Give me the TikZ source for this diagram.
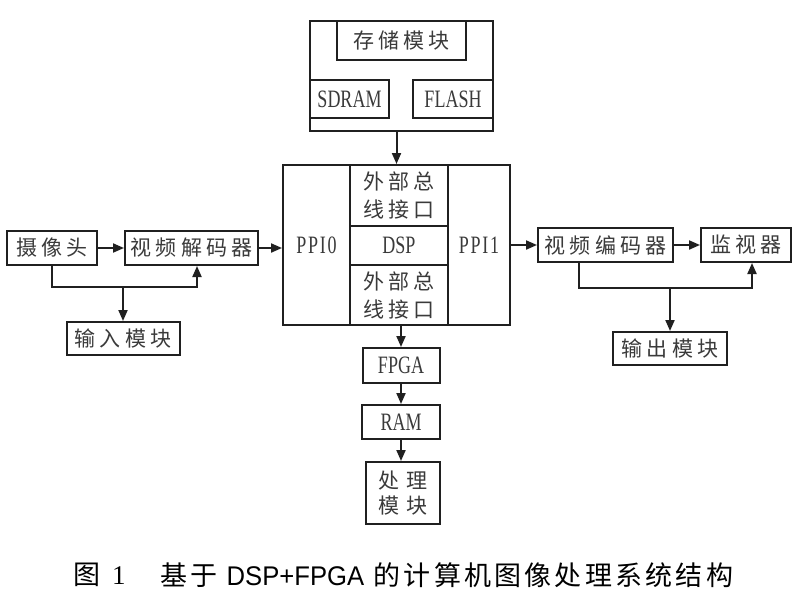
\documentclass[tikz,border=0pt]{standalone}
\usepackage{fontspec}
\usetikzlibrary{arrows.meta}
\newfontfamily\cjk{Noto Sans CJK SC}[LetterSpace=20]
\newfontfamily\cjkcap{Noto Sans CJK SC}[LetterSpace=12]
\newfontfamily\lat{Liberation Serif}[FakeStretch=0.72]
\newfontfamily\latsp{Liberation Serif}[FakeStretch=0.72,LetterSpace=7]
\newfontfamily\capsans{Liberation Sans}[FakeStretch=0.95]
\newfontfamily\capserif{Liberation Serif}
\definecolor{linec}{HTML}{202020}
\definecolor{txt}{HTML}{3A3A3A}
\tikzset{
  box/.style={draw=linec, line width=2pt, inner sep=0pt, text=txt, align=center},
  zh/.style={font=\fontsize{21}{28}\selectfont\cjk},
  en/.style={font=\fontsize{25}{28}\selectfont\lat},
  ensp/.style={font=\fontsize{25}{28}\selectfont\latsp},
  arr/.style={draw=linec, line width=2pt, -{Triangle[length=11pt,width=9pt]}},
}
\begin{document}
\begin{tikzpicture}[x=1pt,y=-1pt]
\useasboundingbox[fill=white] (0,0) rectangle (800,602);
% storage module
\node[box, minimum width=183pt, minimum height=110pt] (store) at (401.5,76) {};
\node[box, zh, minimum width=129pt, minimum height=39pt] (title) at (401.5,40.5) {存储模块};
\node[box, en, minimum width=79pt, minimum height=38pt] (sdram) at (349.5,99) {SDRAM};
\node[box, en, minimum width=80pt, minimum height=38pt] (flash) at (453,99) {FLASH};
% DSP block
\node[box, minimum width=227pt, minimum height=160pt] (big) at (396.5,245) {};
\node[box, ensp, minimum width=67pt, minimum height=160pt] (ppi0) at (316.5,245) {PPI0};
\node[box, ensp, minimum width=62pt, minimum height=160pt] (ppi1) at (479,245) {PPI1};
\node[box, zh, minimum width=98pt, minimum height=61pt] (ext1) at (399,195.5) {外部总\\线接口};
\node[box, en, minimum width=98pt, minimum height=39pt] (dsp) at (399,245.5) {DSP};
\node[box, zh, minimum width=98pt, minimum height=60pt] (ext2) at (399,295) {外部总\\线接口};
% left side
\node[box, zh, minimum width=90pt, minimum height=34pt] (cam) at (52,248) {摄像头};
\node[box, zh, minimum width=133pt, minimum height=34pt] (dec) at (191.5,248) {视频解码器};
\node[box, zh, minimum width=113pt, minimum height=33pt] (in) at (123,338.5) {输入模块};
% right side
\node[box, zh, minimum width=135pt, minimum height=34pt] (enc) at (605.5,245) {视频编码器};
\node[box, zh, minimum width=90pt, minimum height=34pt] (mon) at (746,245) {监视器};
\node[box, zh, minimum width=114pt, minimum height=33pt] (out) at (670,348.5) {输出模块};
% bottom chain
\node[box, en, minimum width=77pt, minimum height=35pt] (fpga) at (401,365.5) {FPGA};
\node[box, en, minimum width=78pt, minimum height=34pt] (ram) at (401,422) {RAM};
\node[box, zh, minimum width=74pt, minimum height=62pt, font=\fontsize{21}{25}\selectfont\cjk] (proc) at (403,493) {处\hspace{7pt}理\\模\hspace{7pt}块};
% junctions
\coordinate (jl) at (123,287);
\coordinate (jr) at (670,288);
% connectors
\draw[arr] (store.south -| big.north) -- (big.north);
\draw[arr] (cam) -- (dec);
\draw[arr] (dec.east) -- (dec.east -| ppi0.west);
\draw[arr] (cam.south) |- (jl) -| ([xshift=5.5pt]dec.south);
\draw[arr] (jl) -- (in.north);
\draw[arr] (ppi1.east |- enc.west) -- (enc.west);
\draw[arr] (enc) -- (mon);
\draw[arr] ([xshift=-26.5pt]enc.south) |- (jr) -| ([xshift=6pt]mon.south);
\draw[arr] (jr) -- (out.north);
\draw[arr] (ext2.south -| fpga.north) -- (fpga.north);
\draw[arr] (fpga) -- (ram);
\draw[arr] (ram.south) -- (ram.south |- proc.north);
% caption
\node[anchor=west, inner sep=0pt, font=\fontsize{27}{30}\selectfont\cjkcap, text=black] (capnum) at (73,575) {图\hspace{12pt}{\capserif 1}};
\node[anchor=west, inner sep=0pt, font=\fontsize{27}{30}\selectfont\cjkcap, text=black] (cap) at (160,575) {基于 {\capsans DSP+FPGA} 的计算机图像处理系统结构};
\end{tikzpicture}
\end{document}
